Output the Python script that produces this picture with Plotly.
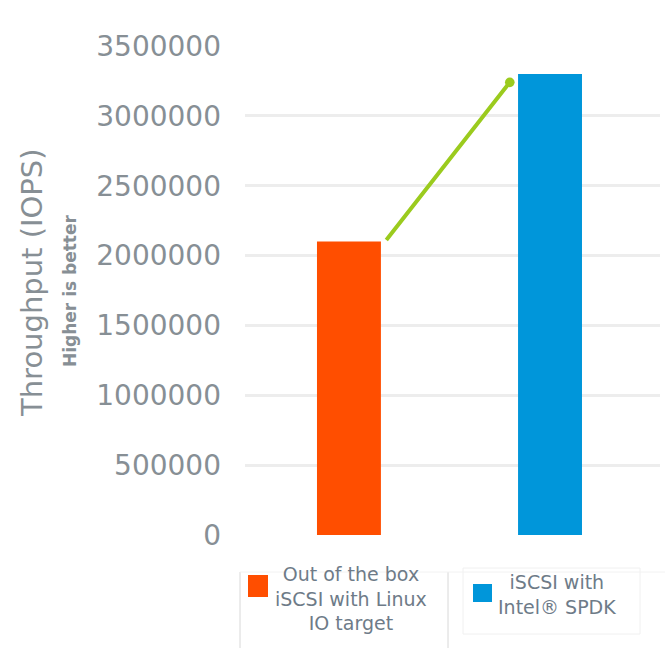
import plotly.graph_objects as go

categories = ["Out of the box iSCSI with Linux IO target", "iSCSI with Intel® SPDK"]
legend_labels = ["Out of the box<br>iSCSI with Linux<br>IO target", "iSCSI with<br>Intel® SPDK"]
iops = [2100000, 3300000]
colors = ["#FF4E00", "#0096DA"]
y_ticks = [0, 500000, 1000000, 1500000, 2000000, 2500000, 3000000, 3500000]

W, H = 665, 648
L, R, T, B = 245, 5, 46, 113
PW, PH = W - L - R, H - T - B
FONT = "DejaVu Sans"

def px(x):
    return (x - L) / PW

def py(y):
    return (H - B - y) / PH

fig = go.Figure()
fig.add_trace(go.Bar(
    x=[0, 1], y=iops, marker=dict(color=colors, line=dict(width=0)),
    width=0.318, hoverinfo="y", showlegend=False,
))

fig.update_layout(
    width=W, height=H,
    margin=dict(l=L, r=R, t=T, b=B),
    paper_bgcolor="white", plot_bgcolor="white",
    font=dict(family=FONT, color="#878F95"),
    xaxis=dict(range=[-0.517, 1.547], showticklabels=False, showgrid=False,
               zeroline=False, showline=False, fixedrange=True),
    yaxis=dict(range=[0, 3500000], tickvals=y_ticks,
               ticktext=[str(v) for v in y_ticks],
               tickfont=dict(family=FONT, size=28, color="#878F95"),
               showgrid=True, gridcolor="#EDEDED", gridwidth=3,
               zeroline=False, showline=False, ticks="", ticklabelstandoff=23),
)

# growth arrow from the orange bar top to the blue bar top
fig.add_annotation(
    x=0.8, y=iops[1] - 60000, ax=0.18, ay=iops[0],
    xref="x", yref="y", axref="x", ayref="y",
    text="", showarrow=True, arrowhead=6, arrowsize=0.6, arrowwidth=4,
    arrowcolor="#9BCB1E",
)

# axis titles
fig.add_annotation(x=px(32), y=py(283), xref="paper", yref="paper",
                   xanchor="center", yanchor="middle",
                   text="Throughput (IOPS)", textangle=-90, showarrow=False,
                   font=dict(family=FONT, size=29, color="#878F95"))
fig.add_annotation(x=px(70), y=py(291), xref="paper", yref="paper",
                   xanchor="center", yanchor="middle",
                   text="<b>Higher is better</b>", textangle=-90, showarrow=False,
                   font=dict(family=FONT, size=17, color="#878F95"))

# custom legend
legend_items = [
    dict(sq=(248, 575, 268, 597), tx=351, ty=598),
    dict(sq=(473, 584, 492, 602), tx=557, ty=594),
]
for item, lab, col in zip(legend_items, legend_labels, colors):
    x0, y0, x1, y1 = item["sq"]
    fig.add_shape(type="rect", xref="paper", yref="paper",
                  x0=px(x0), x1=px(x1), y0=py(y1), y1=py(y0),
                  fillcolor=col, line=dict(width=0))
    fig.add_annotation(x=px(item["tx"]), y=py(item["ty"]), xref="paper", yref="paper",
                       xanchor="center", yanchor="middle",
                       text=lab, showarrow=False, align="center",
                       font=dict(family=FONT, size=19, color="#6E7B88"))

# separators
for sx in [240, 448]:
    fig.add_shape(type="line", xref="paper", yref="paper",
                  x0=px(sx), x1=px(sx), y0=py(572), y1=py(648),
                  line=dict(color="#D8D8D8", width=1))
fig.add_shape(type="rect", xref="paper", yref="paper",
              x0=px(463), x1=px(640), y0=py(634), y1=py(568),
              line=dict(color="#F0F0F0", width=1))
fig.add_shape(type="line", xref="paper", yref="paper",
              x0=px(240), x1=px(665), y0=py(572), y1=py(572),
              line=dict(color="#F2F2F2", width=1))

fig.write_html("out.html")
